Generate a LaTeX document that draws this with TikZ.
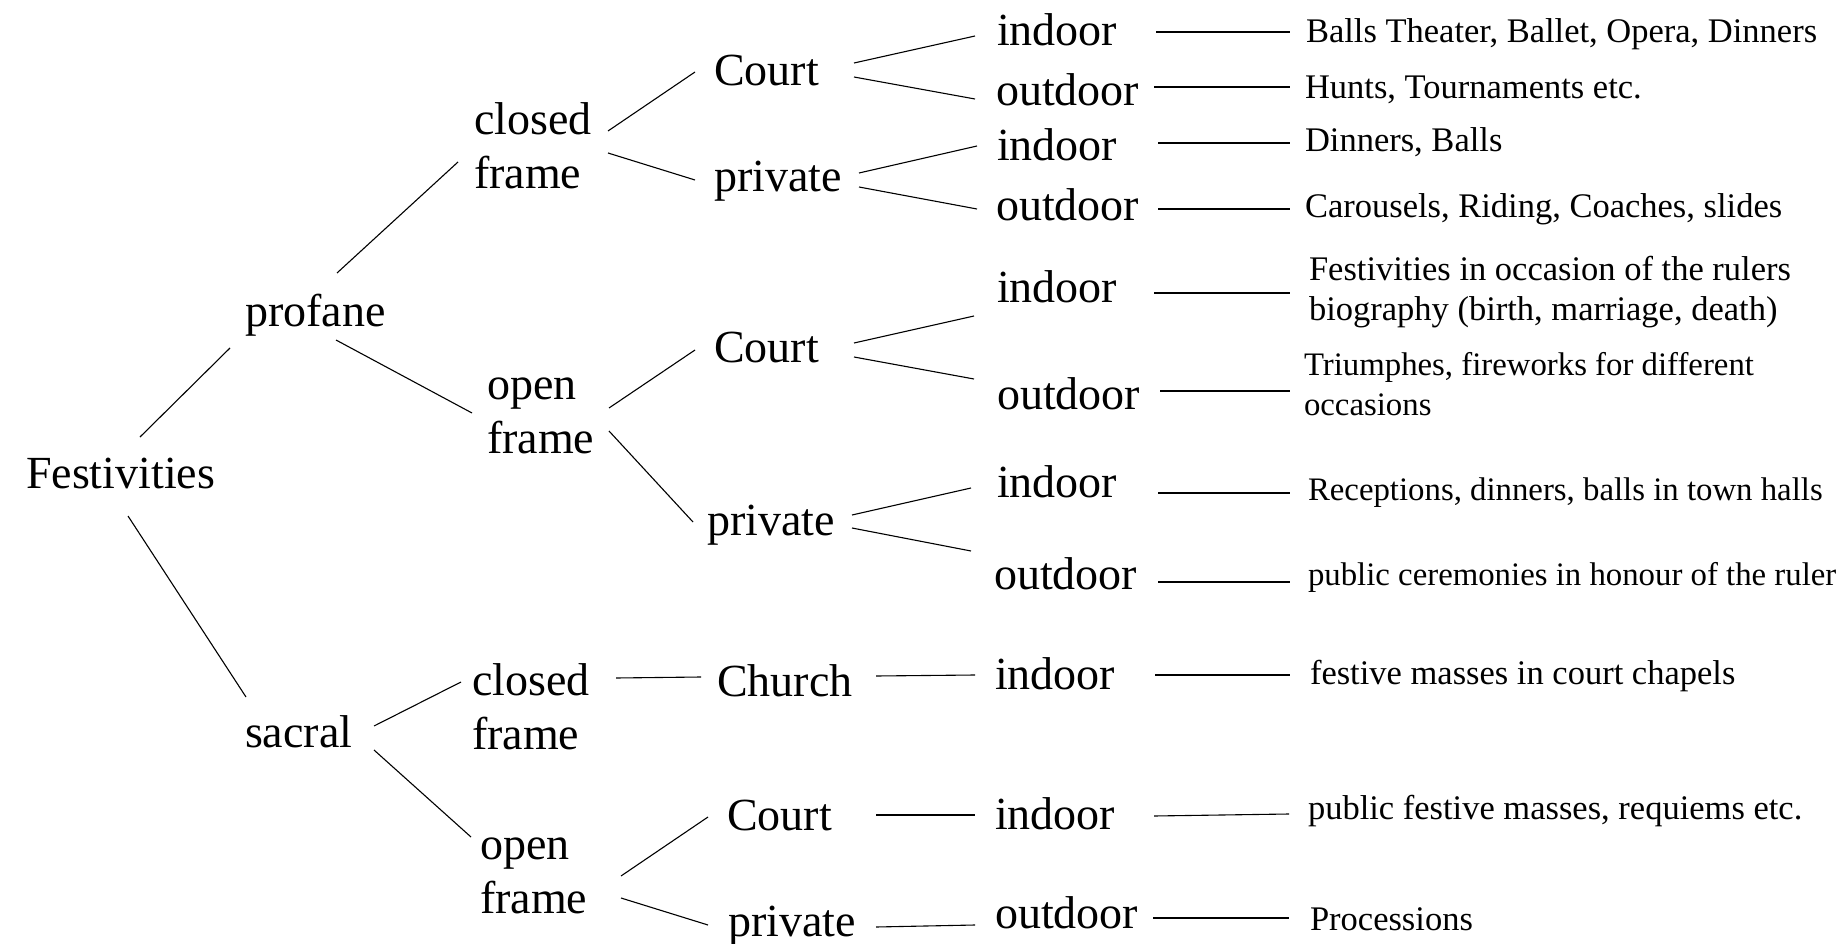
\documentclass[tikz,border=0pt]{standalone}
\usepackage{fontspec}
\setmainfont{Liberation Serif}
\tikzset{
  big/.style={inner sep=0pt, outer sep=0pt, anchor=base west, align=left, font=\fontsize{46}{54}\selectfont},
  small/.style={inner sep=0pt, outer sep=0pt, anchor=base west, align=left, font=\fontsize{34.5}{40}\selectfont},
  smaller/.style={small, font=\fontsize{32.8}{40}\selectfont},
  conn/.style={draw=black, line width=1.1pt}
}
\newcommand\lk[4]{\draw[conn] ([shift={#2}]#1.base west) -- ([shift={#4}]#3.base west);}
\begin{document}
\begin{tikzpicture}[x=1pt,y=-1pt]
\useasboundingbox[fill=white] (0,0) rectangle (1842,944);
% level 0-1
\node[big] (fes) at (26,488) {Festivities};
\node[big] (pro) at (245,326) {profane};
\node[big] (sac) at (245,747) {sacral};
% level 2 (anchored at the baseline of the last line)
\node[big] (pcf) at (474,189) {closed\\frame};
\node[big] (pof) at (487,453) {open\\frame};
\node[big] (scf) at (472,749) {closed\\frame};
\node[big] (sof) at (480,913) {open\\frame};
% level 3
\node[big] (pcc) at (714,86) {Court};
\node[big] (pcp) at (714,192) {private};
\node[big] (poc) at (714,362) {Court};
\node[big] (pop) at (707,535) {private};
\node[big] (sch) at (717,696) {Church};
\node[big] (soc) at (727,830) {Court};
\node[big] (sop) at (728,936) {private};
% level 4
\node[big] (i1) at (997,46) {indoor};
\node[big] (o1) at (996,106) {outdoor};
\node[big] (i2) at (997,161) {indoor};
\node[big] (o2) at (996,221) {outdoor};
\node[big] (i3) at (997,302) {indoor};
\node[big] (o3) at (997,409) {outdoor};
\node[big] (i4) at (997,497) {indoor};
\node[big] (o4) at (994,589) {outdoor};
\node[big] (i5) at (995,689) {indoor};
\node[big] (i6) at (995,829) {indoor};
\node[big] (o5) at (995,928) {outdoor};
% level 5 texts
\node[small] (t1) at (1306,43) {Balls Theater, Ballet, Opera, Dinners};
\node[small] (t2) at (1305,99) {Hunts, Tournaments etc.};
\node[small] (t3) at (1305,152) {Dinners, Balls};
\node[small] (t4) at (1305,218) {Carousels, Riding, Coaches, slides};
\node[small] (t5) at (1309,320) {Festivities in occasion of the rulers\\biography (birth, marriage, death)};
\node[smaller] (t6) at (1304,415) {Triumphes, fireworks for different\\occasions};
\node[smaller] (t7) at (1308,500) {Receptions, dinners, balls in town halls};
\node[smaller] (t8) at (1308,585) {public ceremonies in honour of the ruler};
\node[small] (t9) at (1310,684) {festive masses in court chapels};
\node[small] (t10) at (1308,819) {public festive masses, requiems etc.};
\node[small] (t11) at (1310,930) {Processions};
% connectors
\lk{fes}{(114,-51)}{pro}{(-15,22)}
\lk{pro}{(92,-53)}{pcf}{(-16,-27)}
\lk{pro}{(91,14)}{pof}{(-15,-40)}
\lk{fes}{(102,28)}{sac}{(1,-50)}
\lk{pcf}{(134,-58)}{pcc}{(-19,-14)}
\lk{pcf}{(134,-36)}{pcp}{(-19,-12)}
\lk{pof}{(122,-45)}{poc}{(-19,-12)}
\lk{pof}{(122,-22)}{pop}{(-14,-13)}
\lk{pcc}{(140,-23)}{i1}{(-22,-10)}
\lk{pcc}{(140,-9)}{o1}{(-21,-7)}
\lk{pcp}{(145,-19)}{i2}{(-20,-15)}
\lk{pcp}{(145,-5)}{o2}{(-19,-12)}
\lk{poc}{(140,-19)}{i3}{(-23,14)}
\lk{poc}{(140,-5)}{o3}{(-23,-30)}
\lk{pop}{(145,-20)}{i4}{(-26,-9)}
\lk{pop}{(145,-7)}{o4}{(-23,-38)}
\lk{sac}{(129,-21)}{scf}{(-11,-67)}
\lk{sac}{(129,3)}{sof}{(-9,-76)}
\lk{scf}{(144,-71)}{sch}{(-16,-19)}
\lk{sof}{(141,-37)}{soc}{(-19,-13)}
\lk{sof}{(141,-15)}{sop}{(-20,-11)}
\lk{sch}{(159,-20)}{i5}{(-20,-14)}
\lk{soc}{(149,-15)}{i6}{(-20,-14)}
\lk{sop}{(148,-9)}{o5}{(-20,-3)}
\lk{i1}{(159,-14)}{t1}{(-16,-11)}
\lk{o1}{(158,-19)}{t2}{(-15,-12)}
\lk{i2}{(161,-18)}{t3}{(-15,-9)}
\lk{o2}{(162,-12)}{t4}{(-15,-9)}
\lk{i3}{(157,-9)}{t5}{(-19,-27)}
\lk{o3}{(163,-18)}{t6}{(-14,-24)}
\lk{i4}{(161,-4)}{t7}{(-18,-7)}
\lk{o4}{(164,-7)}{t8}{(-18,-3)}
\lk{i5}{(160,-14)}{t9}{(-20,-9)}
\lk{i6}{(159,-13)}{t10}{(-19,-5)}
\lk{o5}{(158,-10)}{t11}{(-21,-12)}
\end{tikzpicture}
\end{document}
